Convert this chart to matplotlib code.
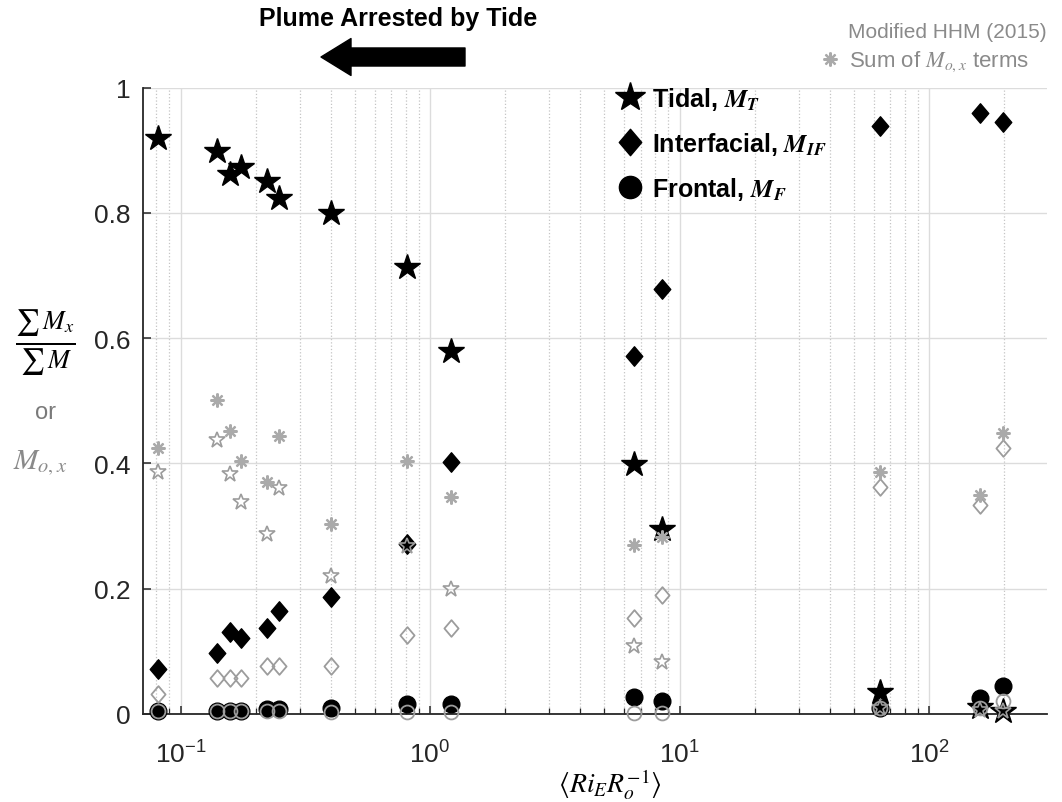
import matplotlib.pyplot as plt
from matplotlib.lines import Line2D
from matplotlib.path import Path
import matplotlib.ticker as mticker
import numpy as np

plt.rcParams['font.family'] = 'Liberation Sans'
plt.rcParams['mathtext.fontset'] = 'stix'

# <Ri_E Ro^-1> for each run
ri_ro = [0.0815, 0.1395, 0.158, 0.175, 0.2215, 0.248, 0.400, 0.811, 1.21, 6.57, 8.47, 63.5, 160, 197]

# fractions of total momentum
tidal = [0.920, 0.898, 0.862, 0.873, 0.851, 0.824, 0.800, 0.713, 0.580, 0.399, 0.295, 0.035, 0.011, 0.005]
interfacial = [0.072, 0.097, 0.131, 0.121, 0.138, 0.165, 0.187, 0.272, 0.402, 0.572, 0.679, 0.939, 0.960, 0.945]
frontal = [0.004, 0.004, 0.004, 0.004, 0.008, 0.008, 0.010, 0.016, 0.016, 0.027, 0.021, 0.010, 0.026, 0.045]

# modified HHM (2015) terms
mo_tidal = [0.387, 0.438, 0.383, 0.339, 0.287, 0.360, 0.220, 0.268, 0.200, 0.109, 0.083, 0.010, 0.006, 0.005]
mo_interfacial = [0.032, 0.058, 0.058, 0.058, 0.076, 0.076, 0.077, 0.126, 0.137, 0.153, 0.190, 0.363, 0.334, 0.424]
mo_frontal = [0.004, 0.004, 0.004, 0.004, 0.004, 0.004, 0.003, 0.003, 0.003, 0.002, 0.002, 0.010, 0.010, 0.020]
mo_sum = [0.425, 0.501, 0.451, 0.404, 0.371, 0.443, 0.303, 0.404, 0.347, 0.270, 0.282, 0.387, 0.350, 0.449]

diamond = Path([(0, 1), (0.85, 0), (0, -1), (-0.85, 0), (0, 1)],
               [Path.MOVETO, Path.LINETO, Path.LINETO, Path.LINETO, Path.CLOSEPOLY])
gray = '#9c9c9c'

W, H = 1062, 803
fig = plt.figure(figsize=(W / 100, H / 100), dpi=100)
ax = fig.add_axes([142.7 / W, 1 - 715 / H, (1047 - 142.7) / W, (715 - 88.5) / H])

ax.plot(ri_ro, tidal, ls='none', marker='*', ms=19, color='k', clip_on=False, zorder=3)
ax.plot(ri_ro, interfacial, ls='none', marker=diamond, ms=14, color='k', clip_on=False, zorder=3)
ax.plot(ri_ro, frontal, ls='none', marker='o', ms=12, color='k', clip_on=False, zorder=3)

ax.plot(ri_ro, mo_tidal, ls='none', marker='*', ms=12, mfc='none', mec=gray, mew=1.2, clip_on=False, zorder=4)
ax.plot(ri_ro, mo_interfacial, ls='none', marker=diamond, ms=12, mfc='none', mec=gray, mew=1.3, clip_on=False, zorder=4)
ax.plot(ri_ro, mo_frontal, ls='none', marker='o', ms=10, mfc='none', mec=gray, mew=1.3, clip_on=False, zorder=4)
ax.plot(ri_ro, mo_sum, ls='none', marker=(8, 2, 0), ms=10, mec='#aaaaaa', mew=1.6, clip_on=False, zorder=4)

ax.set_xscale('log')
ax.set_xlim(0.0705, 297)
ax.set_ylim(0, 1)
ax.set_yticks([0, 0.2, 0.4, 0.6, 0.8, 1])
ax.yaxis.set_major_formatter(mticker.FuncFormatter(lambda v, p: '%g' % v))
ax.xaxis.set_major_locator(mticker.LogLocator(base=10, numticks=10))
ax.xaxis.set_minor_locator(mticker.LogLocator(base=10, subs=range(2, 10), numticks=20))
ax.xaxis.set_minor_formatter(mticker.NullFormatter())
ax.xaxis.set_major_formatter(mticker.FuncFormatter(lambda v, p: r'$\mathregular{10^{%d}}$' % round(np.log10(v))))

ax.grid(True, which='major', color='#dcdcdc', lw=1.0)
ax.grid(True, which='minor', axis='x', color='#c4c4c4', lw=0.9, ls=':')
ax.set_axisbelow(True)
for s in ['top', 'right']:
    ax.spines[s].set_visible(False)
for s in ['left', 'bottom']:
    ax.spines[s].set_color('#262626')
    ax.spines[s].set_linewidth(1.3)
ax.tick_params(which='major', direction='in', length=6, width=1.1, color='#262626',
               labelsize=19, labelcolor='#262626')
ax.tick_params(axis='x', which='major', pad=19)
ax.tick_params(axis='y', which='major', pad=9)
ax.tick_params(which='minor', direction='in', length=4, width=0.9, color='#262626')

ax.set_xlabel(r'$\langle Ri_E R_o^{-1}\rangle$', fontsize=20, va='center')
ax.xaxis.set_label_coords((610 - 142.7) / (1047 - 142.7), -70 / 626.5)

# y label made of pieces
fig.text(45 / W, 1 - 343 / H, r'$\frac{\sum\, M_x}{\sum\, M}$', fontsize=27, ha='center', va='center')
fig.text(45 / W, 1 - 413 / H, 'or', fontsize=17, color='#7a7a7a', ha='center', va='center')
fig.text(40 / W, 1 - 463 / H, r'$M_{o,x}$', fontsize=21, color='#8a8a8a', ha='center', va='center')

# title and arrow
fig.text(398 / W, 1 - 19 / H, 'Plume Arrested by Tide', fontsize=18, weight='bold', ha='center', va='center')
ax.annotate('', xy=(321 / W, 1 - 58 / H), xytext=(465 / W, 1 - 58 / H),
            xycoords='figure fraction', textcoords='figure fraction',
            arrowprops=dict(arrowstyle='simple,head_width=1.33,head_length=1.08,tail_width=0.65',
                            mutation_scale=20, color='k', shrinkA=0, shrinkB=0))

# legends
handles = [Line2D([], [], ls='none', marker='*', ms=22, color='k'),
           Line2D([], [], ls='none', marker=diamond, ms=19, color='k'),
           Line2D([], [], ls='none', marker='o', ms=16, color='k')]
labels = [r'Tidal, $\mathbfit{M_T}$', r'Interfacial, $\mathbfit{M_{IF}}$', r'Frontal, $\mathbfit{M_F}$']
leg1 = ax.legend(handles, labels, loc='upper left', bbox_to_anchor=(617 / W, 1 - 86 / H),
                 bbox_transform=fig.transFigure, frameon=False, borderpad=0, borderaxespad=0,
                 handlelength=1.0, handletextpad=0.4, labelspacing=0.72,
                 prop={'family': 'Liberation Sans', 'weight': 'bold', 'size': 18})
ax.add_artist(leg1)

fig.text(1047 / W, 1 - 32 / H, 'Modified HHM (2015)', fontsize=15, color='#8a8a8a', ha='right', va='center')
h_sum = Line2D([], [], ls='none', marker=(8, 2, 0), ms=10, mec='#aaaaaa', mew=1.6)
leg2 = ax.legend([h_sum], [r'Sum of $M_{o,x}$ terms'], loc='upper left', bbox_to_anchor=(820 / W, 1 - 50 / H),
                 bbox_transform=fig.transFigure, frameon=False, borderpad=0, borderaxespad=0,
                 handlelength=0.9, handletextpad=0.4, prop={'size': 16}, labelcolor='#8a8a8a')

fig.savefig('out.png', dpi=100)
